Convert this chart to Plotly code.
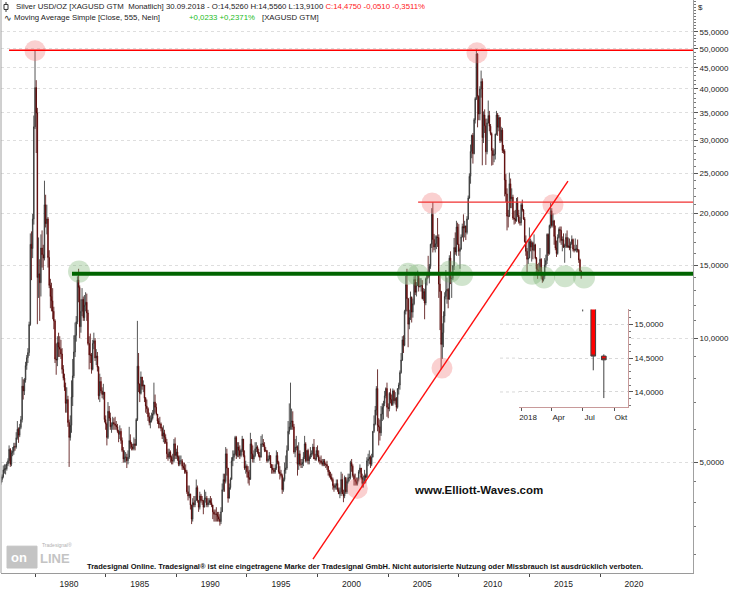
import plotly.graph_objects as go
import pandas as pd

# ---------------- data (monthly silver candles, USD/oz) ----------------
FIRST_MONTH = "1977-07-01"
FIRST_OPEN = 4.42

CLOSE = [
    4.47, 4.55, 4.62, 4.80, 4.83, 4.83,                                         # 1977 Jul-Dec
    4.96, 5.05, 5.38, 4.95, 5.28, 5.32, 5.47, 5.45, 5.74, 6.02, 5.82, 6.08,      # 1978
    6.35, 7.65, 7.45, 7.92, 8.58, 8.96, 9.22, 10.78, 16.85, 16.45, 19.40, 32.40, # 1979
    40.30, 35.00, 14.00, 14.30, 13.60, 16.50, 15.90, 15.60, 21.00, 18.90, 19.40, 15.65,  # 1980
    13.40, 12.60, 12.30, 11.60, 11.00, 8.90, 8.85, 9.75, 9.50, 9.40, 9.15, 8.40,  # 1981
    8.00, 7.60, 6.95, 7.10, 6.25, 5.75, 6.15, 7.20, 8.10, 9.25, 10.15, 10.95,    # 1982
    13.80, 13.25, 10.65, 11.60, 12.40, 11.20, 12.00, 12.20, 11.50, 9.70, 9.10, 9.10,  # 1983
    8.40, 9.70, 9.85, 8.95, 9.05, 8.50, 7.25, 7.85, 7.45, 7.30, 7.40, 6.35,      # 1984
    6.20, 5.75, 6.65, 6.40, 6.10, 6.15, 6.25, 6.20, 6.15, 6.10, 5.95, 5.85,      # 1985
    5.95, 5.65, 5.35, 5.10, 5.15, 5.15, 5.05, 5.15, 5.65, 5.55, 5.45, 5.40,      # 1986
    5.55, 5.50, 6.35, 8.55, 7.75, 7.35, 8.05, 7.65, 7.70, 7.15, 6.85, 6.75,      # 1987
    6.45, 6.25, 6.30, 6.40, 6.55, 7.00, 6.80, 6.55, 6.30, 6.20, 6.20, 6.05,      # 1988
    5.80, 5.90, 5.75, 5.60, 5.25, 5.15, 5.30, 5.15, 5.05, 5.05, 5.55, 5.20,      # 1989
    5.30, 5.15, 4.95, 5.05, 5.05, 4.90, 4.85, 4.80, 4.75, 4.25, 4.15, 4.20,      # 1990
    3.95, 3.65, 4.00, 3.95, 4.05, 4.35, 4.05, 3.90, 4.15, 4.05, 4.05, 3.90,      # 1991
    4.10, 4.10, 3.95, 4.00, 4.05, 4.00, 3.95, 3.80, 3.75, 3.75, 3.75, 3.70,      # 1992
    3.65, 3.60, 3.80, 4.30, 4.55, 4.50, 5.25, 4.85, 4.10, 4.35, 4.55, 5.05,      # 1993
    5.15, 5.25, 5.75, 5.20, 5.45, 5.35, 5.20, 5.35, 5.70, 5.20, 4.85, 4.90,      # 1994
    4.75, 4.60, 4.55, 5.55, 5.25, 5.10, 5.20, 5.40, 5.45, 5.30, 5.20, 5.15,      # 1995
    5.55, 5.55, 5.50, 5.35, 5.35, 5.05, 5.10, 5.20, 4.95, 4.85, 4.80, 4.75,      # 1996
    4.85, 5.20, 5.00, 4.75, 4.70, 4.65, 4.30, 4.55, 4.80, 4.85, 5.35, 5.95,      # 1997
    6.10, 6.25, 6.30, 6.10, 5.30, 5.45, 5.45, 4.95, 5.25, 4.95, 4.95, 5.00,      # 1998
    5.15, 5.55, 5.05, 5.35, 5.05, 5.15, 5.25, 5.25, 5.45, 5.10, 5.10, 5.35,      # 1999
    5.20, 5.05, 5.05, 5.00, 4.95, 5.05, 4.95, 4.95, 4.90, 4.75, 4.65, 4.60,      # 2000
    4.55, 4.40, 4.35, 4.40, 4.45, 4.30, 4.20, 4.25, 4.55, 4.20, 4.15, 4.60,      # 2001
    4.25, 4.50, 4.60, 4.60, 5.00, 4.90, 4.65, 4.55, 4.50, 4.45, 4.55, 4.75,      # 2002
    4.85, 4.60, 4.45, 4.50, 4.65, 4.60, 5.05, 5.10, 5.15, 4.95, 5.15, 5.95,      # 2003
    6.20, 6.70, 7.55, 6.15, 6.10, 5.90, 6.55, 6.80, 6.95, 7.25, 7.55, 6.80,      # 2004
    6.75, 7.35, 7.10, 6.90, 7.45, 7.05, 7.15, 6.80, 7.55, 7.70, 8.25, 8.85,      # 2005
    9.90, 9.60, 11.60, 13.45, 12.45, 10.80, 11.20, 12.55, 11.55, 12.10, 13.85, 12.90,  # 2006
    13.40, 14.15, 13.30, 13.35, 13.40, 12.45, 12.95, 12.15, 13.90, 14.30, 14.10, 14.90,  # 2007
    16.85, 19.90, 17.30, 16.60, 16.90, 17.55, 17.50, 13.50, 12.95, 9.65, 10.30, 11.30,   # 2008
    12.60, 13.00, 13.10, 12.40, 15.60, 13.90, 13.95, 14.95, 16.55, 16.15, 18.55, 16.85,  # 2009
    16.20, 16.40, 17.55, 18.60, 18.45, 18.65, 18.00, 19.40, 21.80, 24.60, 28.25, 30.90,  # 2010
    27.90, 33.70, 37.90, 48.60, 38.40, 34.80, 40.00, 41.70, 30.50, 34.60, 32.60, 28.20,  # 2011
    33.10, 34.50, 32.50, 31.20, 28.40, 27.60, 27.80, 31.10, 34.60, 32.30, 34.10, 30.00,  # 2012
    31.80, 28.40, 28.30, 24.10, 22.30, 19.70, 19.70, 23.60, 21.70, 21.90, 19.50, 19.40,  # 2013
    19.20, 21.20, 19.80, 19.10, 19.00, 21.00, 20.40, 19.40, 17.10, 16.20, 15.50, 15.60,  # 2014
    17.10, 16.60, 17.00, 16.30, 16.80, 15.60, 14.70, 14.60, 14.50, 15.50, 14.10, 13.80,  # 2015
    14.10, 15.00, 15.40, 17.80, 16.00, 18.70, 20.30, 18.70, 19.20, 17.60, 16.50, 16.00,  # 2016
    17.50, 18.30, 18.20, 17.20, 17.30, 16.60, 16.70, 17.50, 16.60, 16.70, 16.50, 16.90,  # 2017
    17.30, 16.40, 16.30, 16.40, 16.40, 16.30, 15.45, 14.53, 14.475,                      # 2018 Jan-Sep
]

HIGH = [
    4.60, 4.62, 4.68, 4.92, 4.95, 4.95,
    5.02, 5.12, 5.50, 5.42, 5.35, 5.45, 5.58, 5.58, 5.92, 6.30, 6.08, 6.20,
    6.48, 8.05, 7.95, 8.00, 8.76, 9.10, 9.45, 10.95, 17.90, 18.10, 19.95, 34.50,
    49.50, 42.00, 36.00, 17.50, 15.50, 17.80, 18.20, 16.80, 24.00, 22.20, 21.00, 19.60,
    16.30, 13.90, 13.60, 13.20, 11.90, 11.10, 9.70, 10.10, 10.30, 10.10, 9.90, 9.45,
    8.60, 8.20, 7.80, 7.60, 7.25, 6.35, 6.50, 7.90, 8.90, 10.15, 10.90, 11.30,
    14.10, 14.70, 13.40, 12.40, 13.20, 12.60, 12.70, 12.90, 12.80, 11.70, 10.10, 10.25,
    9.20, 9.90, 10.30, 10.00, 9.40, 9.25, 8.55, 8.20, 8.05, 7.60, 7.75, 7.40,
    6.50, 6.25, 7.00, 6.85, 6.60, 6.25, 6.45, 6.40, 6.45, 6.30, 6.20, 6.00,
    6.15, 6.05, 5.75, 5.45, 5.35, 5.30, 5.25, 5.35, 6.10, 5.85, 5.60, 5.55,
    5.75, 5.70, 6.40, 11.00, 9.20, 7.75, 8.30, 8.05, 7.90, 7.70, 7.20, 7.10,
    6.80, 6.60, 6.50, 6.60, 6.70, 7.80, 7.30, 6.95, 6.55, 6.40, 6.45, 6.25,
    6.10, 6.15, 6.00, 5.85, 5.70, 5.40, 5.40, 5.35, 5.20, 5.25, 5.70, 5.75,
    5.40, 5.50, 5.20, 5.20, 5.20, 5.10, 5.00, 5.00, 4.95, 4.80, 4.40, 4.40,
    4.20, 3.95, 4.10, 4.15, 4.15, 4.55, 4.40, 4.05, 4.25, 4.20, 4.15, 4.05,
    4.30, 4.25, 4.15, 4.10, 4.10, 4.15, 4.10, 3.95, 3.85, 3.85, 3.90, 3.80,
    3.80, 3.75, 3.90, 4.45, 4.70, 4.70, 5.45, 5.40, 4.85, 4.45, 4.60, 5.15,
    5.35, 5.35, 5.80, 5.80, 5.60, 5.60, 5.50, 5.40, 5.80, 5.70, 5.35, 5.05,
    4.95, 4.90, 4.80, 5.90, 5.70, 5.50, 5.35, 5.60, 5.60, 5.50, 5.40, 5.30,
    5.80, 5.85, 5.70, 5.60, 5.45, 5.35, 5.20, 5.30, 5.20, 4.95, 4.95, 4.85,
    4.95, 5.35, 5.30, 5.05, 4.90, 4.80, 4.70, 4.60, 5.00, 5.20, 5.50, 6.30,
    6.95, 7.80, 6.75, 6.65, 6.20, 5.70, 5.80, 5.50, 5.60, 5.35, 5.10, 5.10,
    5.30, 5.80, 5.60, 5.35, 5.40, 5.20, 5.45, 5.35, 5.55, 5.70, 5.25, 5.45,
    5.50, 5.35, 5.15, 5.20, 5.10, 5.10, 5.10, 5.00, 5.05, 4.90, 4.80, 4.75,
    4.70, 4.60, 4.45, 4.45, 4.55, 4.55, 4.35, 4.35, 4.75, 4.70, 4.30, 4.65,
    4.60, 4.55, 4.70, 4.70, 5.05, 5.10, 4.95, 4.70, 4.70, 4.60, 4.60, 4.80,
    4.95, 4.85, 4.70, 4.65, 4.80, 4.70, 5.15, 5.25, 5.35, 5.20, 5.25, 5.95,
    6.50, 6.85, 7.65, 8.40, 6.40, 6.35, 6.85, 6.95, 7.05, 7.45, 7.60, 7.80,
    6.95, 7.40, 7.55, 7.30, 7.55, 7.50, 7.40, 7.20, 7.55, 7.80, 8.35, 9.20,
    10.10, 10.15, 11.70, 14.15, 14.70, 12.50, 11.70, 12.95, 12.60, 12.45, 14.10, 14.20,
    13.65, 14.55, 14.30, 13.95, 13.95, 13.80, 13.20, 13.15, 14.00, 14.45, 15.80, 15.10,
    16.90, 20.60, 21.30, 17.85, 17.70, 17.70, 19.50, 17.80, 14.20, 13.00, 10.85, 11.60,
    12.90, 14.60, 14.00, 13.20, 15.85, 16.20, 14.15, 15.00, 17.45, 18.00, 19.20, 19.00,
    18.85, 16.55, 17.80, 18.90, 19.90, 19.20, 18.70, 19.70, 22.10, 25.00, 29.35, 31.00,
    31.30, 34.00, 38.20, 49.80, 48.80, 38.60, 40.60, 44.30, 42.40, 35.30, 35.70, 33.90,
    33.90, 37.50, 35.40, 32.90, 31.40, 28.80, 28.60, 31.20, 35.40, 35.00, 34.60, 34.20,
    32.40, 32.20, 29.30, 28.60, 24.90, 23.00, 20.40, 25.10, 24.30, 23.00, 22.20, 20.30,
    20.40, 21.80, 21.90, 20.40, 19.60, 21.20, 21.60, 20.50, 19.60, 17.70, 16.50, 17.30,
    18.50, 17.40, 17.20, 17.10, 17.80, 16.90, 15.70, 15.10, 15.20, 16.50, 15.60, 14.40,
    14.30, 15.60, 15.90, 17.90, 17.90, 18.80, 21.20, 20.60, 20.00, 19.30, 18.70, 17.20,
    17.80, 18.50, 18.60, 18.60, 17.60, 17.90, 16.90, 17.90, 18.20, 17.50, 17.40, 17.10,
    17.70, 17.40, 16.80, 17.40, 16.80, 17.30, 16.40, 15.55, 14.556,
]

LOW = [
    4.35, 4.42, 4.48, 4.58, 4.70, 4.68,
    4.78, 4.90, 4.98, 4.88, 4.90, 5.18, 5.22, 5.34, 5.40, 5.68, 5.58, 5.76,
    6.02, 6.25, 7.10, 7.28, 7.80, 8.38, 8.70, 9.05, 10.70, 13.80, 15.60, 18.80,
    32.00, 28.00, 10.80, 12.50, 11.00, 12.60, 14.80, 14.60, 15.40, 18.50, 17.80, 14.80,
    13.20, 11.80, 11.60, 11.10, 10.50, 8.70, 8.15, 8.55, 9.00, 9.00, 8.90, 8.20,
    7.90, 7.45, 6.60, 6.60, 6.10, 4.88, 5.65, 5.90, 6.85, 8.00, 9.00, 9.80,
    10.80, 12.20, 10.00, 10.30, 11.30, 11.00, 11.00, 11.60, 11.00, 9.60, 8.40, 8.70,
    8.20, 8.35, 9.40, 8.80, 8.60, 8.30, 7.10, 7.00, 7.35, 7.15, 7.10, 6.25,
    6.00, 5.50, 5.70, 6.30, 6.00, 5.90, 6.00, 6.00, 6.00, 6.00, 5.90, 5.60,
    5.70, 5.55, 5.30, 5.00, 5.00, 5.00, 4.85, 4.95, 5.10, 5.40, 5.35, 5.35,
    5.35, 5.35, 5.50, 6.30, 7.40, 7.00, 7.30, 7.50, 7.40, 7.00, 6.60, 6.55,
    6.30, 6.15, 6.05, 6.25, 6.35, 6.50, 6.60, 6.50, 6.20, 6.05, 6.05, 5.95,
    5.70, 5.60, 5.55, 5.55, 5.10, 5.05, 5.10, 5.00, 4.95, 4.95, 5.00, 5.10,
    5.10, 5.05, 4.90, 4.90, 4.95, 4.80, 4.80, 4.70, 4.70, 4.20, 4.05, 4.10,
    3.85, 3.55, 3.60, 3.90, 3.90, 4.05, 4.00, 3.80, 3.85, 4.00, 3.95, 3.75,
    3.90, 4.00, 3.90, 3.90, 3.95, 3.95, 3.90, 3.65, 3.60, 3.60, 3.60, 3.60,
    3.60, 3.52, 3.55, 3.80, 4.25, 4.25, 4.45, 4.65, 4.00, 4.10, 4.30, 4.55,
    4.90, 5.05, 5.20, 5.10, 5.15, 5.15, 5.10, 5.15, 5.30, 5.15, 4.80, 4.70,
    4.60, 4.45, 4.40, 4.55, 5.10, 5.00, 5.00, 5.15, 5.30, 5.25, 5.15, 5.05,
    5.15, 5.45, 5.45, 5.30, 5.30, 5.00, 5.00, 5.05, 4.85, 4.70, 4.70, 4.70,
    4.70, 4.80, 4.95, 4.70, 4.55, 4.60, 4.20, 4.25, 4.50, 4.70, 4.80, 5.35,
    5.85, 6.00, 6.00, 6.00, 5.25, 5.15, 5.35, 4.65, 4.80, 4.90, 4.85, 4.85,
    4.90, 5.10, 5.00, 5.00, 4.95, 4.95, 5.10, 5.15, 5.20, 5.10, 5.05, 5.05,
    5.15, 5.00, 4.95, 4.95, 4.90, 4.90, 4.90, 4.85, 4.80, 4.65, 4.60, 4.55,
    4.50, 4.30, 4.25, 4.30, 4.30, 4.25, 4.20, 4.10, 4.15, 4.20, 4.01, 4.10,
    4.20, 4.20, 4.45, 4.50, 4.55, 4.75, 4.60, 4.40, 4.40, 4.40, 4.40, 4.50,
    4.70, 4.55, 4.35, 4.35, 4.45, 4.45, 4.60, 4.90, 4.95, 4.85, 4.90, 5.15,
    5.90, 6.15, 6.50, 5.95, 5.50, 5.65, 5.80, 6.30, 6.35, 6.85, 7.15, 6.45,
    6.40, 6.65, 6.95, 6.85, 6.85, 6.95, 6.90, 6.65, 6.75, 7.30, 7.50, 8.20,
    8.80, 9.20, 9.55, 11.40, 11.60, 9.50, 10.50, 11.05, 10.90, 11.20, 12.00, 12.70,
    12.60, 13.35, 12.95, 13.25, 12.95, 12.40, 12.30, 11.10, 12.00, 13.40, 13.95, 13.55,
    14.70, 16.50, 16.10, 16.30, 16.10, 16.40, 16.60, 12.50, 10.45, 8.40, 8.90, 9.50,
    10.90, 12.40, 12.10, 11.80, 12.40, 13.50, 12.50, 13.80, 14.60, 15.90, 15.80, 16.80,
    15.80, 14.70, 16.35, 17.50, 17.10, 17.50, 17.25, 17.80, 19.30, 21.70, 23.60, 27.20,
    26.40, 27.80, 33.00, 37.60, 32.30, 33.60, 33.60, 38.10, 26.15, 29.60, 31.30, 26.20,
    27.80, 33.00, 31.60, 30.90, 26.10, 26.20, 26.60, 27.00, 30.90, 30.80, 31.60, 29.60,
    29.70, 28.00, 27.90, 22.00, 21.30, 18.20, 18.50, 19.60, 20.60, 20.60, 19.30, 18.80,
    18.90, 19.10, 19.60, 18.90, 18.70, 18.70, 20.20, 19.30, 17.00, 15.80, 14.40, 15.10,
    15.60, 16.20, 15.30, 15.50, 16.20, 15.50, 14.30, 13.90, 14.20, 14.40, 13.90, 13.60,
    13.70, 13.90, 14.80, 15.10, 15.80, 15.90, 18.40, 18.50, 18.50, 16.80, 16.30, 15.70,
    15.90, 17.40, 17.00, 16.80, 16.20, 16.50, 15.20, 16.50, 16.50, 16.50, 16.30, 15.60,
    16.80, 16.20, 16.10, 16.20, 16.10, 16.10, 15.19, 14.32, 13.91,
]

# horizontal levels and trend line (price, start date)
RESIST_TOP = 49.6
RESIST_TOP_FROM = "1978-02-28"
RESIST_MID = 21.3
RESIST_MID_FROM = "2007-02-14"
SUPPORT = 14.3
SUPPORT_FROM = "1982-08-14"
LINE_END = "2027-06-30"
TREND_DATES = ["1999-09-05", "2017-09-24"]
TREND_PRICES = [2.92, 23.95]

# highlighted turning points
PINK_DATES = ["1980-01-01", "2011-04-15", "2008-02-10", "2016-09-01", "2008-10-23", "2002-10-25"]
PINK_PRICES = [49.5, 48.9, 21.2, 21.0, 8.46, 4.33]
GREEN_DATES = ["1983-02-12", "2006-05-29", "2007-02-13", "2009-05-18", "2010-03-25",
               "2015-03-10", "2016-01-16", "2017-07-09", "2018-11-13"]
GREEN_PRICES = [14.47, 14.3, 14.2, 14.47, 14.2, 14.3, 14.0, 14.1, 14.0]

Y_TICKS = [5, 10, 15, 20, 25, 30, 35, 40, 45, 50, 55]
Y_MINOR = [3, 3.5, 4, 4.5, 6, 7, 8, 9, 11, 12, 13, 14, 16, 17, 18, 19, 21, 22, 23, 24,
           26, 27, 28, 29, 31, 32, 33, 34, 36, 37, 38, 39, 41, 42, 43, 44, 46, 47, 48, 49,
           51, 52, 53, 54, 56, 57, 58, 59, 60, 61, 62, 63, 64, 65]
X_YEARS = [1980, 1985, 1990, 1995, 2000, 2005, 2010, 2015, 2020]

INSET_TICKS = [14.0, 14.5, 15.0]
INSET_MONTHS = ["2018-01-01", "2018-04-01", "2018-07-01", "2018-10-01"]
INSET_LABELS = ["2018", "Apr", "Jul", "Okt"]

# ---------------- figure ----------------
W, H = 731, 589
ML, MR, MT, MB = 1, 38, 0, 13
PW, PH = W - ML - MR, H - MT - MB


def px(x):
    return (x - ML) / PW


def py(y):
    return 1 - (y - MT) / PH


def de(v):
    return f"{v:.4f}".replace(".", ",")


dates = pd.date_range(FIRST_MONTH, periods=len(CLOSE), freq="MS")
opens = [FIRST_OPEN] + CLOSE[:-1]

FONT = "Liberation Sans, Arial, sans-serif"
fig = go.Figure()

fig.add_trace(go.Candlestick(
    x=dates, open=opens, high=HIGH, low=LOW, close=CLOSE,
    increasing=dict(line=dict(color="#2a2a2a", width=0.8), fillcolor="#a8a8a8"),
    decreasing=dict(line=dict(color="#4a0000", width=0.8), fillcolor="#ff0000"),
    hoverinfo="skip", xaxis="x", yaxis="y",
))

fig.add_trace(go.Scatter(x=PINK_DATES, y=PINK_PRICES, mode="markers",
                         marker=dict(size=21, color="rgba(240,110,110,0.32)", line=dict(width=0)),
                         hoverinfo="skip"))
fig.add_trace(go.Scatter(x=GREEN_DATES, y=GREEN_PRICES, mode="markers",
                         marker=dict(size=22, color="rgba(110,170,100,0.32)", line=dict(width=0)),
                         hoverinfo="skip"))

fig.add_trace(go.Scatter(x=[RESIST_TOP_FROM, LINE_END], y=[RESIST_TOP, RESIST_TOP], mode="lines",
                         line=dict(color="#ff0000", width=1.6), hoverinfo="skip"))
fig.add_trace(go.Scatter(x=[RESIST_MID_FROM, LINE_END], y=[RESIST_MID, RESIST_MID], mode="lines",
                         line=dict(color="#f03030", width=1.4), hoverinfo="skip"))
fig.add_trace(go.Scatter(x=[SUPPORT_FROM, LINE_END], y=[SUPPORT, SUPPORT], mode="lines",
                         line=dict(color="#006400", width=4.2), hoverinfo="skip"))
fig.add_trace(go.Scatter(x=TREND_DATES, y=TREND_PRICES, mode="lines",
                         line=dict(color="#ff1010", width=1.4), hoverinfo="skip"))

# inset (last months)
fig.add_trace(go.Candlestick(
    x=dates, open=opens, high=HIGH, low=LOW, close=CLOSE,
    increasing=dict(line=dict(color="#3c3c3c", width=1), fillcolor="#b4b4b4"),
    decreasing=dict(line=dict(color="#404040", width=1), fillcolor="#ff0000"),
    hoverinfo="skip", xaxis="x2", yaxis="y2",
))

fig.update_layout(
    width=W, height=H, margin=dict(l=ML, r=MR, t=MT, b=MB),
    paper_bgcolor="white", plot_bgcolor="white", showlegend=False,
    font=dict(family=FONT, size=8, color="#222222"),
    xaxis=dict(
        type="date", range=["1977-08-04", "2026-08-01"], rangeslider=dict(visible=False),
        tickmode="array", tickvals=[f"{y}-01-01" for y in X_YEARS], ticktext=[str(y) for y in X_YEARS],
        ticks="outside", ticklen=3, tickcolor="#444444", ticklabelshift=34,
        showgrid=False, zeroline=False, showline=True, linecolor="#9a9a9a", linewidth=1,
        tickfont=dict(size=8.5, color="#222222"),
    ),
    yaxis=dict(
        type="log", side="right", range=[0.432, 1.817],
        tickmode="array", tickvals=Y_TICKS, ticktext=[de(v) for v in Y_TICKS],
        ticks="outside", ticklen=4, tickcolor="#555555",
        minor=dict(tickmode="array", tickvals=Y_MINOR, ticks="outside", ticklen=2, tickcolor="#777777",
                   showgrid=False),
        showgrid=True, gridcolor="#dedede", griddash="dot", gridwidth=1,
        zeroline=False, showline=True, linecolor="#a0a0a0", linewidth=1,
        tickfont=dict(size=8, color="#222222"),
    ),
    xaxis2=dict(
        type="date", domain=[px(519), px(628)], anchor="y2", range=["2017-12-26", "2018-11-11"],
        rangeslider=dict(visible=False),
        tickmode="array", tickvals=INSET_MONTHS, ticktext=INSET_LABELS, ticklabelshift=7,
        ticks="outside", ticklen=3, tickcolor="#555555",
        showgrid=False, zeroline=False, showline=True, linecolor="#c89a9a", linewidth=1,
        tickfont=dict(size=8, color="#222222"),
    ),
    yaxis2=dict(
        domain=[py(409), py(311)], anchor="x2", side="right", range=[13.78, 15.22],
        tickmode="array", tickvals=INSET_TICKS, ticktext=[de(v) for v in INSET_TICKS],
        ticks="outside", ticklen=4, tickcolor="#555555",
        minor=dict(dtick=0.1, tick0=13.8, ticks="outside", ticklen=2, tickcolor="#777777", showgrid=False),
        showgrid=True, gridcolor="#d8d8d8", griddash="dot",
        zeroline=False, showline=True, linecolor="#c89a9a", linewidth=1,
        tickfont=dict(size=8, color="#222222"),
    ),
)

shapes = [
    # left frame line
    dict(type="line", xref="paper", yref="paper", x0=px(1), x1=px(1), y0=0, y1=1,
         line=dict(color="#a0a0a0", width=1)),
    # white backing for inset
    dict(type="rect", xref="paper", yref="paper", x0=px(505), x1=px(690), y0=py(428), y1=py(303),
         fillcolor="white", line=dict(width=0), layer="below"),
    # candle icon in header
    dict(type="line", xref="paper", yref="paper", x0=px(6), x1=px(6), y0=py(2), y1=py(12),
         line=dict(color="#333333", width=1)),
    dict(type="rect", xref="paper", yref="paper", x0=px(4), x1=px(8), y0=py(9.5), y1=py(4.5),
         fillcolor="white", line=dict(color="#333333", width=1)),
    # logo block
    dict(type="rect", xref="paper", yref="paper", x0=px(7), x1=px(37), y0=py(571), y1=py(549),
         fillcolor="#c4c4c4", line=dict(color="#c4c4c4", width=1)),
]
# faint dotted guides extending the inset grid to the left
for v in INSET_TICKS:
    shapes.append(dict(type="line", xref="paper", yref="y2", x0=px(500), x1=px(519), y0=v, y1=v,
                       line=dict(color="#d8d8d8", width=1, dash="dot")))
fig.update_layout(shapes=shapes)

ann = [
    dict(x=px(14), y=py(7), text="Silver USD/OZ [XAGUSD GTM  Monatlich] 30.09.2018 - O:14,5260 H:14,5560 L:13,9100 "
         "<span style='color:#ff2020'>C:14,4750 -0,0510 -0,3511%</span>",
         font=dict(size=7.8, color="#222222")),
    dict(x=px(2), y=py(18), text="∿", font=dict(size=9, color="#222222")),
    dict(x=px(12), y=py(18), text="Moving Average Simple [Close, 555, Nein]", font=dict(size=7.8, color="#222222")),
    dict(x=px(187), y=py(18), text="+0,0233 +0,2371%", font=dict(size=7.8, color="#22bb22")),
    dict(x=px(260), y=py(18), text="[XAGUSD GTM]", font=dict(size=7.8, color="#222222")),
    dict(x=px(696), y=py(8), text="$", font=dict(size=8, color="#222222")),
    dict(x=px(412), y=py(493), text="<b>www.Elliott-Waves.com</b>", font=dict(size=11.5, color="#111111")),
    dict(x=px(85), y=py(569), text="<b>Tradesignal Online. Tradesignal® ist eine eingetragene Marke der Tradesignal GmbH. "
         "Nicht autorisierte Nutzung oder Missbrauch ist ausdrücklich verboten.</b>",
         font=dict(size=7.5, color="#111111", family="Liberation Sans Narrow, Liberation Sans, sans-serif")),
    dict(x=px(9), y=py(560), text="<b>on</b>", font=dict(size=13, color="white")),
    dict(x=px(38), y=py(561), text="<b>LINE</b>", font=dict(size=13, color="#c4c4c4")),
    dict(x=px(40), y=py(548), text="Tradesignal®", font=dict(size=5, color="#b0b0b0")),
]
for a in ann:
    a.update(xref="paper", yref="paper", xanchor="left", yanchor="middle", showarrow=False)
fig.update_layout(annotations=ann)

fig.write_html("out.html", config={"displayModeBar": False},
               post_script="document.body.style.margin='0px';document.body.style.overflow='hidden';")
